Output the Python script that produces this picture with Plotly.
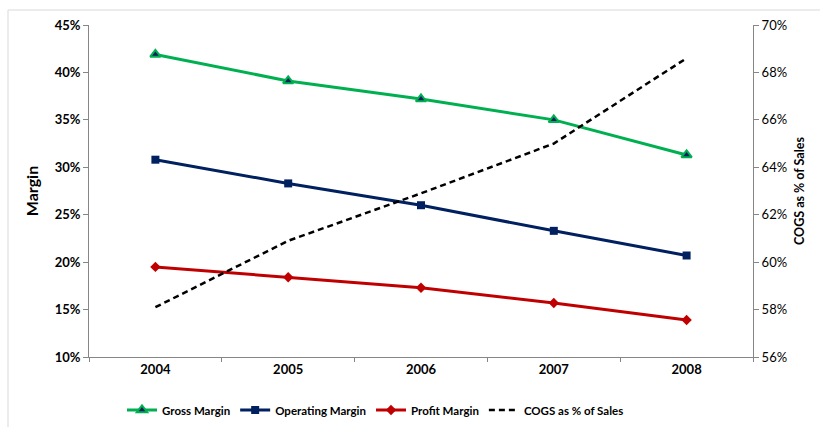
import plotly.graph_objects as go

years = ["2004", "2005", "2006", "2007", "2008"]
gross_margin = [41.9, 39.1, 37.2, 35.0, 31.3]
operating_margin = [30.8, 28.3, 26.0, 23.3, 20.7]
profit_margin = [19.5, 18.4, 17.3, 15.7, 13.9]
cogs_pct_sales = [58.1, 60.9, 62.9, 65.0, 68.6]

left_ticks = [10, 15, 20, 25, 30, 35, 40, 45]
right_ticks = [56, 58, 60, 62, 64, 66, 68, 70]

GREEN = "#00B050"
NAVY = "#002060"
RED = "#C00000"
AXIS = "#868686"
FONT = "Lato"

PLOT_W = 664
PLOT_H = 332

fig = go.Figure()

fig.add_trace(go.Scatter(
    x=years, y=gross_margin, name="Gross Margin", mode="lines+markers",
    line=dict(color=GREEN, width=3),
    marker=dict(symbol="triangle-up", size=9, color=NAVY,
                line=dict(color=GREEN, width=2)),
))
fig.add_trace(go.Scatter(
    x=years, y=operating_margin, name="Operating Margin", mode="lines+markers",
    line=dict(color=NAVY, width=3),
    marker=dict(symbol="square", size=8, color=NAVY),
))
fig.add_trace(go.Scatter(
    x=years, y=profit_margin, name="Profit Margin", mode="lines+markers",
    line=dict(color=RED, width=3),
    marker=dict(symbol="diamond", size=8, color=RED),
))
fig.add_trace(go.Scatter(
    x=years, y=cogs_pct_sales, name="COGS as % of Sales", mode="lines",
    line=dict(color="black", width=2.5, dash="6px,4px"),
    yaxis="y2",
))

fig.update_layout(
    width=820, height=427,
    margin=dict(l=89, r=67, t=25, b=70, autoexpand=False),
    paper_bgcolor="white", plot_bgcolor="white",
    font=dict(family=FONT, size=13, color="black"),
    showlegend=True,
    legend=dict(orientation="h", x=(122 - 89) / PLOT_W, xanchor="left",
                y=-53 / PLOT_H, yanchor="middle",
                font=dict(family=FONT, size=11.5, color="black", weight="bold"),
                itemwidth=30, tracegroupgap=0),
    xaxis=dict(
        type="category", range=[-0.5, 4.5],
        showline=True, linecolor=AXIS, linewidth=1,
        ticks="outside", tickson="boundaries", ticklen=4, tickcolor=AXIS,
        showgrid=False, zeroline=False,
        tickfont=dict(family=FONT, size=13, color="black", weight="bold"),
    ),
    yaxis=dict(
        range=[10, 45], tickvals=left_ticks,
        ticktext=[f"{v}%" for v in left_ticks],
        showline=True, linecolor=AXIS, linewidth=1,
        ticks="outside", ticklen=5, tickcolor=AXIS,
        showgrid=False, zeroline=False,
        tickfont=dict(family=FONT, size=13, color="black", weight="bold"),
        title=dict(text="Margin", standoff=12,
                   font=dict(family=FONT, size=16, color="black", weight="bold")),
    ),
    yaxis2=dict(
        overlaying="y", side="right",
        range=[56, 70], tickvals=right_ticks,
        ticktext=[f"{v}%" for v in right_ticks],
        showline=True, linecolor=AXIS, linewidth=1,
        ticks="outside", ticklen=5, tickcolor=AXIS,
        showgrid=False, zeroline=False,
        tickfont=dict(family=FONT, size=13, color="black"),
        title=dict(text="COGS as % of Sales", standoff=9,
                   font=dict(family=FONT, size=12.5, color="black", weight="bold")),
    ),
    shapes=[dict(
        type="rect", xref="paper", yref="paper",
        x0=-81 / PLOT_W, x1=(PLOT_W + 80) / PLOT_W,
        y0=-90 / PLOT_H, y1=(PLOT_H + 15) / PLOT_H,
        line=dict(color="#D9D9D9", width=1), fillcolor="rgba(0,0,0,0)", layer="below",
    )],
)

fig.write_html("out.html")
